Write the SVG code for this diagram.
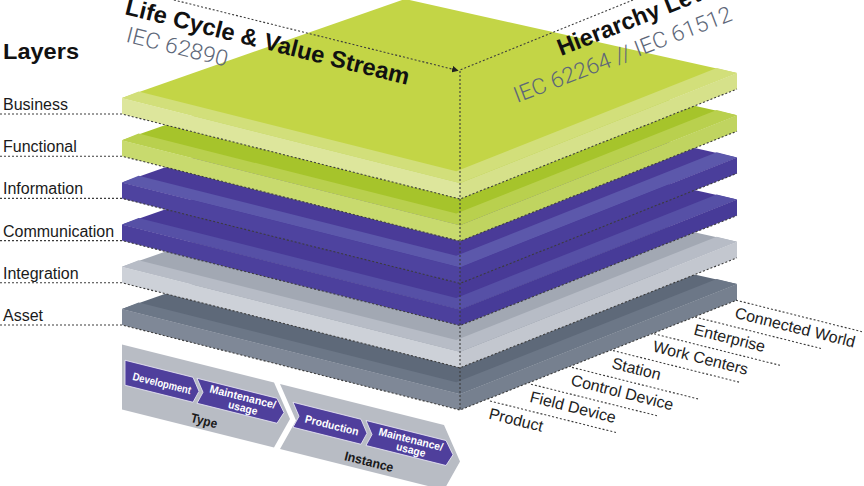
<svg xmlns="http://www.w3.org/2000/svg" width="864" height="486" viewBox="0 0 864 486">
<defs>
<style>
text { font-family: "Liberation Sans", Arial, sans-serif; }
.lbl { font-size:16px; fill:#1a1a1a; }
.hl { font-size:16px; fill:#222; }
.title { font-size:23.5px; font-weight:bold; fill:#111; }
.iec { font-family: Roboto, "Liberation Sans", sans-serif; font-weight:300; font-size:22px; fill:#5d6779; }
.dot { fill:none; stroke:#3c3c3c; stroke-width:1.1; stroke-dasharray:2 2; }
.band { fill:#b8bcc4; }
.pur { fill:#4f3f9c; stroke:#ebe9f5; stroke-width:0.8; }
.pt { font-size:11px; font-weight:bold; fill:#fff; text-anchor:middle; }
.bt { font-size:13px; font-weight:bold; fill:#1a1a1a; text-anchor:middle; }
</style>
<marker id="arr" viewBox="0 0 10 10" refX="9" refY="5" markerWidth="6" markerHeight="6" orient="auto"><path d="M0,0 L10,5 L0,10 z" fill="#222"/></marker>
</defs>

<rect width="864" height="486" fill="#fff"/>

<!-- Layers (bottom to top) -->
<g id="layer-asset" transform="translate(0,211)">
<polygon fill="#5e6979" points="122,98 460,183 737,73 405,-1"/>
<polygon fill="#6c7787" points="122,98 460,183 737,73 716.7,67.9 456.3,171.3 138.6,91.4"/>
<polygon fill="#7f8897" points="122,114 460,199 460,183 122,98"/>
<polygon fill="#76808f" points="460,199 737,89 737,73 460,183"/>
</g>
<g id="layer-integration" transform="translate(0,168.8)">
<polygon fill="#a2a8b3" points="122,98 460,183 737,73 405,-1"/>
<polygon fill="#b7bcc6" points="122,98 460,183 737,73 716.7,67.9 456.3,171.3 138.6,91.4"/>
<polygon fill="#cdd1d8" points="122,114 460,199 460,183 122,98"/>
<polygon fill="#c3c7cf" points="460,199 737,89 737,73 460,183"/>
</g>
<g id="layer-communication" transform="translate(0,126.6)">
<polygon fill="#483a97" points="122,98 460,183 737,73 405,-1"/>
<polygon fill="#5650a6" points="122,98 460,183 737,73 716.7,67.9 456.3,171.3 138.6,91.4"/>
<polygon fill="#4c409d" points="122,114 460,199 460,183 122,98"/>
<polygon fill="#473b98" points="460,199 737,89 737,73 460,183"/>
</g>
<g id="layer-information" transform="translate(0,84.4)">
<polygon fill="#4a3b98" points="122,98 460,183 737,73 405,-1"/>
<polygon fill="#5c58ab" points="122,98 460,183 737,73 716.7,67.9 456.3,171.3 138.6,91.4"/>
<polygon fill="#4e439f" points="122,114 460,199 460,183 122,98"/>
<polygon fill="#4a3e9b" points="460,199 737,89 737,73 460,183"/>
</g>
<g id="layer-functional" transform="translate(0,42.2)">
<polygon fill="#a6c42b" points="122,98 460,183 737,73 405,-1"/>
<polygon fill="#b9d04e" points="122,98 460,183 737,73 716.7,67.9 456.3,171.3 138.6,91.4"/>
<polygon fill="#c8da6e" points="122,114 460,199 460,183 122,98"/>
<polygon fill="#c0d460" points="460,199 737,89 737,73 460,183"/>
</g>
<g id="layer-business">
<polygon fill="#c3d546" points="122,98 460,183 737,73 405,-1"/>
<polygon fill="#d2df7a" points="122,98 460,183 737,73 716.7,67.9 456.3,171.3 138.6,91.4"/>
<polygon fill="#dde69c" points="122,114 460,199 460,183 122,98"/>
<polygon fill="#d6e18a" points="460,199 737,89 737,73 460,183"/>
</g>

<!-- Life cycle bands -->
<g id="type-band" transform="matrix(1,0.25,0,1,0,0)">
<polygon class="band" points="122,314 274,314 290,346.5 274,379 122,379"/>
<polygon class="pur" points="125,329 193,329 199,341.5 193,354 125,354"/>
<polygon class="pur" points="197,329 277,329 284,341.5 277,354 197,354 203,341.5"/>
</g>
<g id="instance-band" transform="matrix(1,0.25,0,1,0,0)">
<polygon class="band" points="280,314 444,314 460,346.5 444,379 280,379 296,346.5"/>
<polygon class="pur" points="293,329 361,329 367,341.5 361,354 293,354 299,341.5"/>
<polygon class="pur" points="366,329 446,329 453,341.5 446,354 366,354 372,341.5"/>
</g>
<g id="band-texts">
<text class="pt" x="161" y="387" transform="rotate(14.04 161 387)" textLength="60" lengthAdjust="spacingAndGlyphs">Development</text>
<text class="pt" x="242" y="400.5" transform="rotate(14.04 242 400.5)" textLength="68" lengthAdjust="spacingAndGlyphs">Maintenance/</text>
<text class="pt" x="242" y="411.5" transform="rotate(14.04 242 411.5)" textLength="30" lengthAdjust="spacingAndGlyphs">usage</text>
<text class="bt" x="203" y="425" transform="rotate(14.04 203 425)" textLength="27" lengthAdjust="spacingAndGlyphs">Type</text>
<text class="pt" x="331" y="429" transform="rotate(14.04 331 429)" textLength="55" lengthAdjust="spacingAndGlyphs">Production</text>
<text class="pt" x="410" y="443" transform="rotate(14.04 410 443)" textLength="66" lengthAdjust="spacingAndGlyphs">Maintenance/</text>
<text class="pt" x="410" y="453.5" transform="rotate(14.04 410 453.5)" textLength="30" lengthAdjust="spacingAndGlyphs">usage</text>
<text class="bt" x="368" y="466" transform="rotate(14.04 368 466)" textLength="50" lengthAdjust="spacingAndGlyphs">Instance</text>
</g>

<!-- Connectors / guide lines -->
<g id="connectors">
<polyline class="dot" points="0,114 122,114 460,199 737,89"/>
<polyline class="dot" points="0,114 122,114 460,199 737,89" transform="translate(0,42.2)"/>
<polyline class="dot" points="0,114 122,114 460,199 737,89" transform="translate(0,84.4)"/>
<polyline class="dot" points="0,114 122,114 460,199 737,89" transform="translate(0,126.6)"/>
<polyline class="dot" points="0,114 122,114 460,199 737,89" transform="translate(0,168.8)"/>
<polyline class="dot" points="0,114 122,114 460,199 737,89" transform="translate(0,211)"/>
<line class="dot" x1="460" y1="71" x2="460" y2="410"/>
<line class="dot" x1="633" y1="0" x2="460" y2="70"/>
<line class="dot" x1="170" y1="-1" x2="458" y2="70.5" marker-end="url(#arr)"/>
<line class="dot" x1="490" y1="401" x2="616" y2="432.5"/>
<line class="dot" x1="531" y1="384.2" x2="657" y2="415.7"/>
<line class="dot" x1="572" y1="367.4" x2="698" y2="398.9"/>
<line class="dot" x1="613" y1="350.6" x2="739" y2="382.1"/>
<line class="dot" x1="654" y1="333.8" x2="780" y2="365.3"/>
<line class="dot" x1="695" y1="317" x2="821" y2="348.5"/>
<line class="dot" x1="736" y1="300.2" x2="862" y2="331.7"/>
</g>

<!-- Layer labels -->
<g id="layer-labels">
<text x="3" y="59" font-size="22" font-weight="bold" fill="#111" textLength="76" lengthAdjust="spacingAndGlyphs">Layers</text>
<text class="lbl" x="3" y="110">Business</text>
<text class="lbl" x="3" y="152.2">Functional</text>
<text class="lbl" x="3" y="194.4">Information</text>
<text class="lbl" x="3" y="236.6">Communication</text>
<text class="lbl" x="3" y="278.8">Integration</text>
<text class="lbl" x="3" y="321">Asset</text>
</g>

<!-- Hierarchy labels -->
<g id="hierarchy-labels">
<text class="hl" x="488" y="418.5" transform="rotate(14.04 488 418.5)">Product</text>
<text class="hl" x="529" y="401.7" transform="rotate(14.04 529 401.7)">Field Device</text>
<text class="hl" x="570" y="384.9" transform="rotate(14.04 570 384.9)">Control Device</text>
<text class="hl" x="611" y="368.1" transform="rotate(14.04 611 368.1)">Station</text>
<text class="hl" x="652" y="351.3" transform="rotate(14.04 652 351.3)">Work Centers</text>
<text class="hl" x="693" y="334.5" transform="rotate(14.04 693 334.5)">Enterprise</text>
<text class="hl" x="734" y="317.7" transform="rotate(14.04 734 317.7)">Connected World</text>
</g>

<!-- Axis titles -->
<g id="axis-titles">
<text class="title" x="124" y="14" transform="rotate(14.04 124 14)" textLength="292" lengthAdjust="spacingAndGlyphs">Life Cycle &amp; Value Stream</text>
<text class="iec" x="125" y="41.5" transform="rotate(14.04 125 41.5)" textLength="104" lengthAdjust="spacingAndGlyphs">IEC 62890</text>
<text class="title" x="561" y="56" transform="rotate(-21.5 561 56)" font-size="24">Hierarchy Levels</text>
<text class="iec" x="517" y="103" transform="rotate(-21 517 103)" textLength="232" lengthAdjust="spacingAndGlyphs">IEC 62264 // IEC 61512</text>
</g>
</svg>
